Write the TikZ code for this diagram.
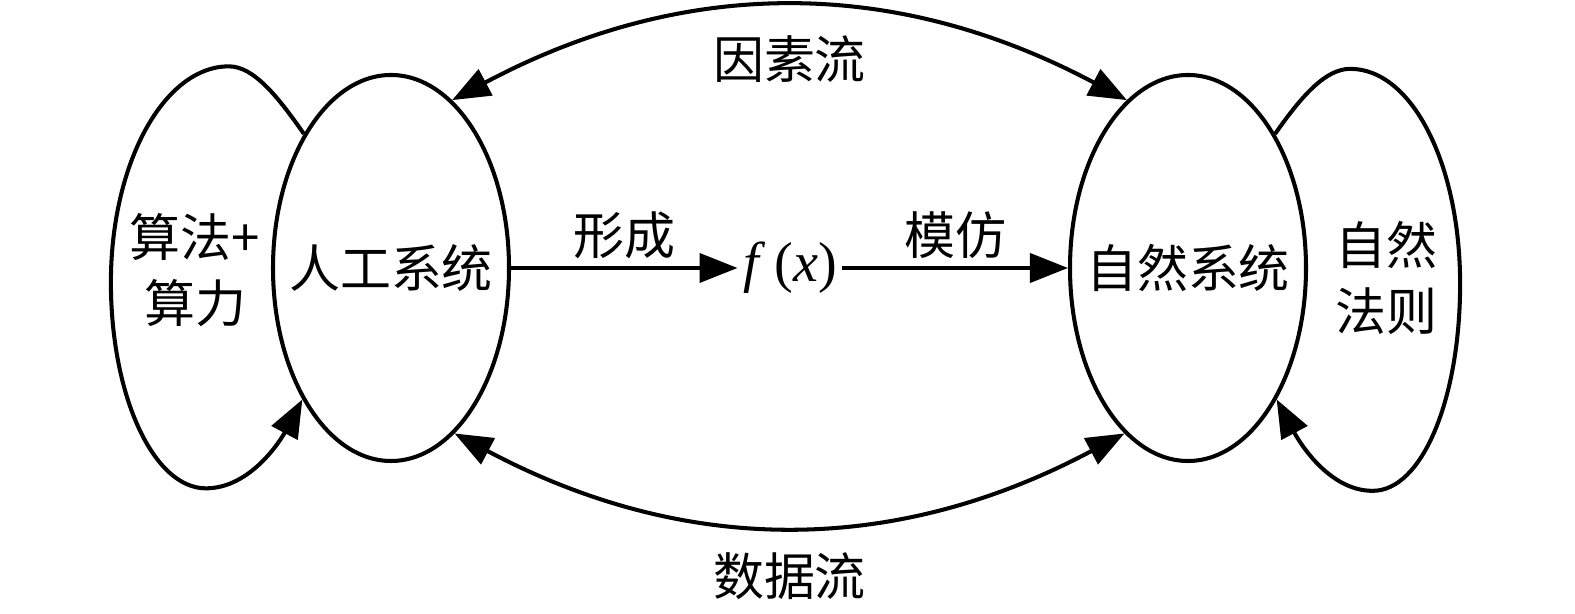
\documentclass[tikz,border=0pt]{standalone}
\usepackage{fontspec}
\newfontfamily\cjk{Noto Sans CJK SC}
\newfontfamily\tms{Liberation Serif}
\usetikzlibrary{arrows.meta,positioning,shapes.geometric}
\tikzset{system/.style={
                        % The shape:
                        ellipse,minimum width=4.72cm,minimum height=7.72cm,
                        % The rest
                        draw=black,
                        },
         cjktext/.style={font=\cjk\fontsize{29}{37.5}\selectfont,inner sep=2pt},
         }
\begin{document}
\begin{tikzpicture}[>={Triangle[length=0.76cm,width=0.58cm]},
                    line width=2.3pt]
  \useasboundingbox (0,0) rectangle (31.5,12.28);
  % The two systems:
  \node (art) [system, label={[cjktext]center:人工系统}] at (7.82,6.92) {};
  \node (nat) [system, label={[cjktext]center:自然系统}] at (23.76,6.92) {};
  \node (fx) [font=\tms\fontsize{32}{38}\selectfont, inner sep=2pt] at (15.8,6.92) {\textit{f}\,(\textit{x})};
  % Texts inside the loops:
  \node (algo) [cjktext, align=center] at (3.90,6.88) {算法+\\算力};
  \node (law) [cjktext, align=center] at (27.72,6.72) {自然\\法则};

  \draw[->] (art) -- node[cjktext, above=0.07cm] {形成} (fx);
  \draw[->] (fx) -- node[cjktext, above=0.07cm] {模仿} (nat);
  \draw[<->] (art.70) to[out=28,in=152] node[cjktext, below=0.45cm] {因素流} (nat.110);
  \draw[<->] (art.291) to[out=-28,in=208] node[cjktext, below=0.43cm] {数据流} (nat.249);
  % The loops:
  \draw[->] (art.123) .. controls +(125:0.9) and +(0:0.5) .. ++(-1.5,1.35)
                      .. controls +(180:1.3) and +(90:2.38) .. ++(-2.36,-4.32)
                      .. controls +(270:2.27) and +(180:1.05) .. ++(1.9,-4.12)
                      .. controls +(0:0.9) and +(242:0.9) .. (art.236);
  \draw[->] (nat.57) .. controls +(55:0.9) and +(180:0.5) .. ++(1.5,1.3)
                     .. controls +(0:1.25) and +(90:2.37) .. ++(2.2,-4.3)
                     .. controls +(270:2.28) and +(0:1.0) .. ++(-1.75,-4.14)
                     .. controls +(180:0.9) and +(298:0.9) .. (nat.304);
\end{tikzpicture}
\end{document}
